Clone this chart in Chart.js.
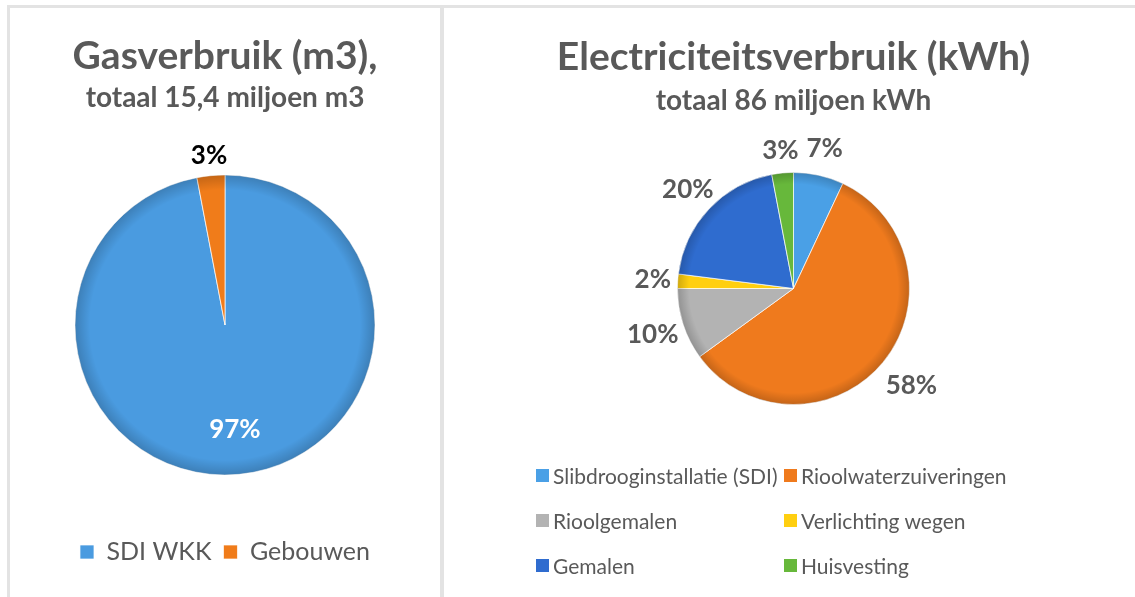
<!DOCTYPE html>
<html>
<head>
<meta charset="utf-8">
<script src="https://cdn.jsdelivr.net/npm/chart.js@4/dist/chart.umd.min.js"></script>
<style>
  body { margin: 0; background: #fff; width: 1135px; height: 597px; overflow: hidden; position: relative; font-family: Lato, sans-serif; }
  .panel { position: absolute; border-top: 3px solid #e3e3e3; box-sizing: content-box; }
  #gasPanel { left: 7px; top: 5px; width: 430px; height: 600px; border-left: 3px solid #e3e3e3; border-right: 2px solid #e3e3e3; }
  #elecPanel { left: 442px; top: 5px; width: 700px; height: 600px; border-left: 2px solid #e3e3e3; }
  .panel canvas { position: absolute; left: 0; top: 0; }
  #elecLegend { position: absolute; left: 92px; top: 452px; width: 560px; }
  #elecLegend .item { position: absolute; display: flex; align-items: center; color: #595959; font-size: 21px; white-space: nowrap; height: 30px; }
  #elecLegend .box { width: 13px; height: 13px; margin-right: 4px; }
</style>
</head>
<body>
<div class="panel" id="gasPanel"><canvas id="gasChart" width="430" height="589"></canvas></div>
<div class="panel" id="elecPanel"><canvas id="elecChart" width="691" height="589"></canvas><div id="elecLegend"></div></div>
<script>
// gas usage (percent of 15,4 miljoen m3)
const gasLabels = ['SDI WKK', 'Gebouwen'];
const gasValues = [97, 3];
const gasColors = ['#4a9be0', '#f07c1a'];

// electricity usage (percent of 86 miljoen kWh)
const elecLabels = ['Slibdrooginstallatie (SDI)', 'Rioolwaterzuiveringen', 'Rioolgemalen', 'Verlichting wegen', 'Gemalen', 'Huisvesting'];
const elecValues = [7, 58, 10, 2, 20, 3];
const elecColors = ['#4aa0e6', '#ef7a1d', '#b3b3b3', '#ffcf10', '#2f6ccf', '#67b83b'];

const grey = '#595959';

// draws the percentage next to / inside each slice
const pctLabels = {
  id: 'pctLabels',
  afterDatasetsDraw(chart, args, opts) {
    const ctx = chart.ctx;
    const meta = chart.getDatasetMeta(0);
    const values = chart.data.datasets[0].data;
    const total = values.reduce((a, b) => a + b, 0);
    ctx.save();
    ctx.font = 'bold 26px Lato';
    ctx.textAlign = 'center';
    ctx.textBaseline = 'middle';
    meta.data.forEach((arc, i) => {
      const p = arc.getProps(['x', 'y', 'startAngle', 'endAngle', 'outerRadius'], true);
      const mid = (p.startAngle + p.endAngle) / 2;
      const place = opts.place[i];
      const d = place.inside ? p.outerRadius * place.dist : p.outerRadius + place.dist;
      ctx.fillStyle = place.color;
      ctx.fillText(Math.round(values[i] / total * 100) + '%', p.x + Math.cos(mid) * d, p.y + Math.sin(mid) * d);
    });
    ctx.restore();
  }
};

// soft darker rim, a bit like the bevel in the original
const rim = {
  id: 'rim',
  afterDatasetsDraw(chart) {
    const arc = chart.getDatasetMeta(0).data[0];
    const p = arc.getProps(['x', 'y', 'outerRadius'], true);
    const ctx = chart.ctx;
    const g = ctx.createRadialGradient(p.x, p.y, p.outerRadius * 0.9, p.x, p.y, p.outerRadius);
    g.addColorStop(0, 'rgba(0,0,0,0)');
    g.addColorStop(1, 'rgba(0,0,0,0.18)');
    ctx.save();
    ctx.beginPath();
    ctx.arc(p.x, p.y, p.outerRadius, 0, Math.PI * 2);
    ctx.fillStyle = g;
    ctx.fill();
    ctx.restore();
  }
};

function titleOpts(text, top, bottom) {
  return { display: true, text: text, color: grey, font: { family: 'Lato', size: 39, weight: 'bold' }, padding: { top: top, bottom: bottom } };
}
function subtitleOpts(text, bottom) {
  return { display: true, text: text, color: grey, font: { family: 'Lato', size: 28, weight: 'bold' }, padding: { top: 0, bottom: bottom } };
}

new Chart(document.getElementById('gasChart'), {
  type: 'pie',
  data: {
    labels: gasLabels,
    datasets: [{ data: gasValues, backgroundColor: gasColors, borderColor: 'rgba(255,255,255,0.7)', borderWidth: 1, radius: 150 }]
  },
  options: {
    responsive: false,
    animation: false,
    layout: { padding: { bottom: 22.5 } },
    plugins: {
      title: titleOpts('Gasverbruik (m3),', 25, 1),
      subtitle: subtitleOpts('totaal 15,4 miljoen m3', 8.1),
      legend: {
        position: 'bottom',
        labels: { color: grey, boxWidth: 14, boxHeight: 14, padding: 12, font: { family: 'Lato', size: 25 } }
      },
      tooltip: { enabled: false },
      pctLabels: { place: [{ inside: true, dist: 0.7, color: '#ffffff' }, { inside: false, dist: 20, color: '#000000' }] }
    }
  },
  plugins: [rim, pctLabels]
});

new Chart(document.getElementById('elecChart'), {
  type: 'pie',
  data: {
    labels: elecLabels,
    datasets: [{ data: elecValues, backgroundColor: elecColors, borderColor: 'rgba(255,255,255,0.7)', borderWidth: 1, radius: 116 }]
  },
  options: {
    responsive: false,
    animation: false,
    layout: { padding: { left: 8, bottom: 156.2 } },
    plugins: {
      title: titleOpts('Electriciteitsverbruik (kWh)', 25.6, 3.4),
      subtitle: subtitleOpts('totaal 86 miljoen kWh', 18.8),
      legend: { display: false },
      tooltip: { enabled: false },
      pctLabels: { place: [27, 37, 32, 25, 29, 23].map(d => ({ inside: false, dist: d, color: grey })) }
    }
  },
  plugins: [rim, pctLabels]
});

// two-column legend for the electricity chart
const legendEl = document.getElementById('elecLegend');
elecLabels.forEach((label, i) => {
  const item = document.createElement('div');
  item.className = 'item';
  item.style.left = (i % 2 === 0 ? 0 : 248) + 'px';
  item.style.top = (Math.floor(i / 2) * 45) + 'px';
  item.innerHTML = '<span class="box" style="background:' + elecColors[i] + '"></span>' + label;
  legendEl.appendChild(item);
});
</script>
</body>
</html>
